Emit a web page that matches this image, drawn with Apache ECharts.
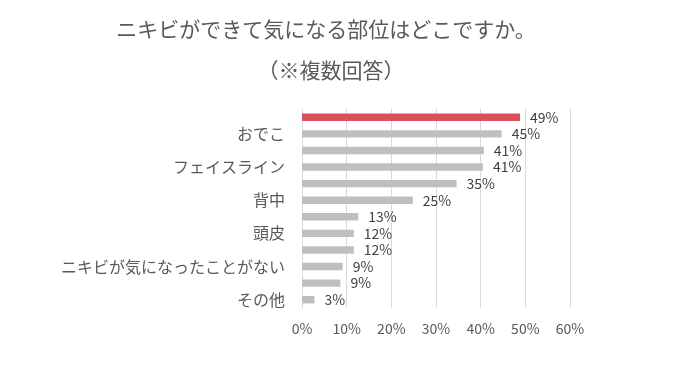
<!DOCTYPE html>
<html><head><meta charset="utf-8">
<script src="https://cdn.jsdelivr.net/npm/echarts@6/dist/echarts.min.js"></script>
<style>html,body{margin:0;padding:0;background:#fff}#c{width:679px;height:367px}</style>
</head><body><div id="c"></div>
<script>
const titleLine1 = 'ニキビができて気になる部位はどこですか。';
const titleLine2 = '（※複数回答）';
const categories = ['あご','おでこ','ほお','フェイスライン','鼻','背中','口まわり','頭皮','胸','ニキビが気になったことがない','首','その他'];
const values = [48.8, 44.7, 40.7, 40.5, 34.6, 24.8, 12.6, 11.6, 11.6, 9.1, 8.6, 2.8];
const xTicks = [0, 10, 20, 30, 40, 50, 60];
const highlightIndex = 0;

const chart = echarts.init(document.getElementById('c'));
const font = '"Noto Sans CJK JP", "Noto Sans", sans-serif';
chart.setOption({
  animation: false,
  textStyle: { fontFamily: font },
  title: [
    { text: titleLine1, left: 321, top: 14, textAlign: 'center',
      textStyle: { fontSize: 21, fontWeight: 'normal', color: '#595959', fontFamily: font } },
    { text: titleLine2, left: 326, top: 55, textAlign: 'center',
      textStyle: { fontSize: 21, fontWeight: 'normal', color: '#595959', fontFamily: font } }
  ],
  grid: { left: 302, right: 109, top: 109, bottom: 59, containLabel: false },
  xAxis: {
    type: 'value', min: xTicks[0], max: xTicks[xTicks.length - 1], interval: 10,
    axisLine: { show: false }, axisTick: { show: false },
    splitLine: { lineStyle: { color: '#d9d9d9', width: 1 } },
    axisLabel: { formatter: '{value}%', fontSize: 14, color: '#595959', margin: 14, fontFamily: font }
  },
  yAxis: {
    type: 'category', data: categories, inverse: true,
    axisLine: { show: true, lineStyle: { color: '#d9d9d9' } },
    axisTick: { show: false },
    axisLabel: { interval: (i) => i % 2 === 1, fontSize: 16, color: '#595959', margin: 17, fontFamily: font }
  },
  series: [{
    type: 'bar', barWidth: '45%',
    data: values.map((v, i) => ({ value: v, itemStyle: { color: i === highlightIndex ? '#d9505c' : '#bfbfbf' } })),
    label: { show: true, position: 'right', distance: 10, fontSize: 14, color: '#404040', fontFamily: font,
      formatter: (p) => Math.round(p.value) + '%' }
  }]
});
</script></body></html>
